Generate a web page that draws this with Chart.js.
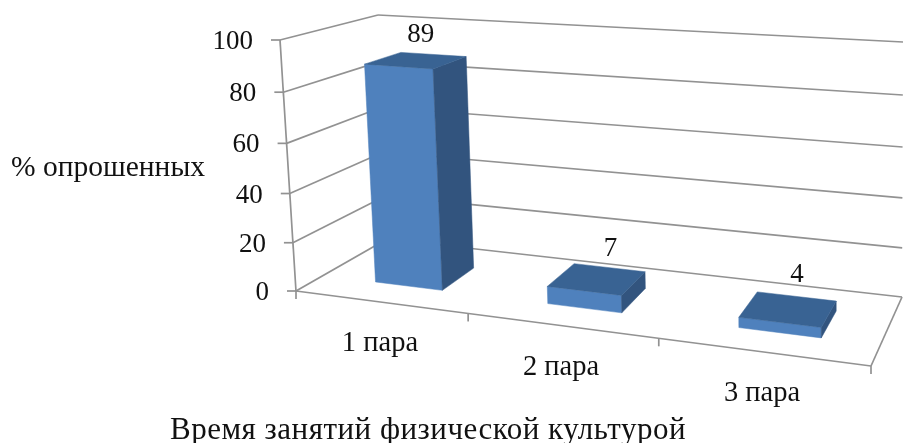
<!DOCTYPE html>
<html>
<head>
<meta charset="utf-8">
<style>
  html, body { margin: 0; background: #fff; }
  canvas { display: block; }
</style>
</head>
<body>
<canvas id="myChart" width="903" height="443"></canvas>
<script src="https://cdn.jsdelivr.net/npm/chart.js@4/dist/chart.umd.min.js"></script>
<script>
const categories = ['1 пара', '2 пара', '3 пара']
const percents = [89, 7, 4]
const yMax = 100
const yStep = 20
const yAxisTitle = '% опрошенных'
const xAxisTitle = 'Время занятий физической культурой'

const FONT = '"Liberation Serif", "Times New Roman", serif'
const GRID = '#929292'
const FRONT = '#4f81bd'
const SIDE = '#32547e'
const TOP = '#396393'

// corners of the 3d box on screen, named by [u, v, w]: along, up, into the page
const box = {
    p000: [296, 291], p100: [871, 366], p001: [387, 239], p101: [902, 297],
    p010: [280, 40], p110: [873, 80], p011: [378, 15], p111: [903, 42]
}
// bars stand in the middle of the floor depth
const barFrontW = 0.3
const barBackW = 0.7
const barShiftU = 0.008
// moves each value label off the middle of its bar top
const labelNudge = [[5, -26], [14, -30], [9, -34]]

const foreshorten = (t, k) => t / (t + k * (1 - t))
const lerp = (a, b, t) => a + (b - a) * t

const project = (u, v, w) => {
    const uu = foreshorten(u, 1.17)
    const vv = foreshorten(v, 1.05)
    return [0, 1].map(i => {
        const front = lerp(lerp(box.p000[i], box.p100[i], uu), lerp(box.p010[i], box.p110[i], uu), vv)
        const back = lerp(lerp(box.p001[i], box.p101[i], uu), lerp(box.p011[i], box.p111[i], uu), vv)
        return lerp(front, back, w)
    })
}

const strokeLine = (ctx, a, b) => {
    ctx.beginPath()
    ctx.moveTo(a[0], a[1])
    ctx.lineTo(b[0], b[1])
    ctx.stroke()
}

const fillFace = (ctx, pts, color) => {
    ctx.fillStyle = color
    ctx.strokeStyle = color
    ctx.lineWidth = 0.5
    ctx.beginPath()
    pts.forEach((p, i) => i ? ctx.lineTo(p[0], p[1]) : ctx.moveTo(p[0], p[1]))
    ctx.closePath()
    ctx.fill()
    ctx.stroke()
}

const box3d = {
    id: 'box3d',
    afterDatasetsDraw(chart) {
        const { ctx, chartArea: area, scales } = chart
        const toU = px => (px - area.left) / (area.right - area.left)
        const toV = px => (area.bottom - px) / (area.bottom - area.top)

        ctx.save()
        ctx.lineWidth = 1.7
        ctx.strokeStyle = GRID

        // walls, with the labels of the value axis
        ctx.font = '27px ' + FONT
        ctx.fillStyle = '#111'
        ctx.textAlign = 'right'
        ctx.textBaseline = 'middle'
        scales.y.ticks.forEach(tick => {
            const v = toV(scales.y.getPixelForValue(tick.value))
            const axis = project(0, v, 0)
            const corner = project(0, v, 1)
            strokeLine(ctx, axis, corner)
            strokeLine(ctx, corner, project(1, v, 1))
            strokeLine(ctx, axis, [axis[0] - 9, axis[1]])
            ctx.fillText(tick.label, axis[0] - 27, axis[1] + 2)
        })
        strokeLine(ctx, project(0, 0, 0), project(0, 1, 0))

        // floor edges and ticks between the categories
        strokeLine(ctx, project(0, 0, 0), project(1, 0, 0))
        strokeLine(ctx, project(1, 0, 0), project(1, 0, 1))
        const nCat = categories.length
        for (let i = 0; i <= nCat; i++) {
            const p = project(i / nCat, 0, 0)
            strokeLine(ctx, p, [p[0], p[1] + 8])
        }

        // bars
        const bars = chart.getDatasetMeta(0).data
        bars.forEach(bar => {
            const u0 = toU(bar.x - bar.width / 2) + barShiftU
            const u1 = toU(bar.x + bar.width / 2) + barShiftU
            const v = toV(bar.y)
            const a = project(u0, 0, barFrontW), b = project(u1, 0, barFrontW)
            const c = project(u1, v, barFrontW), d = project(u0, v, barFrontW)
            const e = project(u1, 0, barBackW), f = project(u1, v, barBackW), g = project(u0, v, barBackW)
            fillFace(ctx, [a, b, c, d], FRONT)
            fillFace(ctx, [b, e, f, c], SIDE)
            fillFace(ctx, [d, c, f, g], TOP)
        })

        // value labels
        ctx.fillStyle = '#111'
        ctx.textAlign = 'center'
        bars.forEach((bar, i) => {
            const top = project(toU(bar.x) + barShiftU, toV(bar.y), (barFrontW + barBackW) / 2)
            ctx.fillText(percents[i], top[0] + labelNudge[i][0], top[1] + labelNudge[i][1])
        })

        // category labels under the front edge
        ctx.font = '28.5px ' + FONT
        scales.x.ticks.forEach((tick, i) => {
            const p = project(toU(scales.x.getPixelForTick(i)), 0, 0)
            ctx.fillText(tick.label, p[0], p[1] + 42)
        })

        // axis titles
        ctx.font = '29.5px ' + FONT
        ctx.fillText(yAxisTitle, 108, 168)
        ctx.font = '31px ' + FONT
        ctx.letterSpacing = '0.5px'
        ctx.fillText(xAxisTitle, 428, 431)
        ctx.restore()
    }
}

const ctx = document.getElementById('myChart').getContext('2d')
new Chart(ctx, {
    type: 'bar',
    plugins: [box3d],
    data: {
        labels: categories,
        datasets: [{
            label: yAxisTitle,
            data: percents,
            backgroundColor: 'rgba(0,0,0,0)',
            categoryPercentage: 0.4,
            barPercentage: 1
        }]
    },
    options: {
        responsive: false,
        animation: false,
        layout: { padding: { left: 296, right: 32, top: 40, bottom: 152 } },
        plugins: { legend: { display: false }, tooltip: { enabled: false } },
        scales: {
            x: { display: false },
            y: { display: false, min: 0, max: yMax, ticks: { stepSize: yStep } }
        }
    }
})
</script>
</body>
</html>
